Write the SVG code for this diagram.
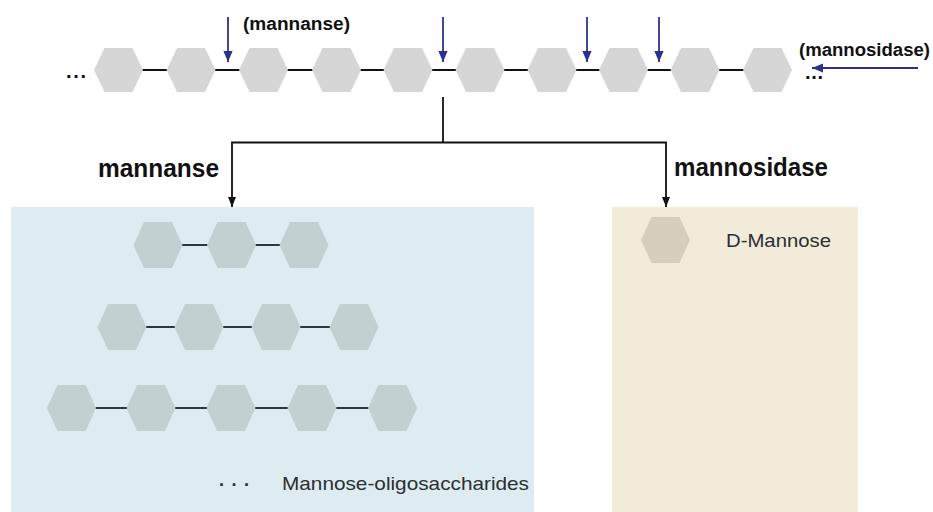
<svg xmlns="http://www.w3.org/2000/svg" xmlns:xlink="http://www.w3.org/1999/xlink" width="933" height="512" viewBox="0 0 933 512">
<style>
.bold{font-family:"Liberation Sans","DejaVu Sans",sans-serif;font-weight:bold;fill:#111}
.reg{font-family:"Liberation Sans","DejaVu Sans",sans-serif;fill:#2a2f33}
.hexTop{fill:#d6d6d6}
.hexBlue{fill:#c3d0d1}
.hexBeige{fill:#d6cfbd}
.chainTop{stroke:#111;stroke-width:2.2;fill:none}
.chain{stroke:#2f3838;stroke-width:1.8;fill:none}
.blue{stroke:#2b318c;stroke-width:1.8;fill:none}
.conn{stroke:#111;stroke-width:1.8;fill:none}
</style>
<defs>
<polygon id="hexA" points="-24.5,0 -14,-22 14,-22 24.5,0 14,22 -14,22"/>
<polygon id="hexB" points="-24.5,0 -14,-23 14,-23 24.5,0 14,23 -14,23"/>
<marker id="arrBlue" viewBox="0 0 10 10" refX="10" refY="5" markerWidth="11" markerHeight="11" markerUnits="userSpaceOnUse" orient="auto"><path d="M0,0.8 L10,5 L0,9.2 Z" fill="#2b318c"/></marker>
<marker id="arrBlack" viewBox="0 0 10 10" refX="10" refY="5" markerWidth="10" markerHeight="10" markerUnits="userSpaceOnUse" orient="auto"><path d="M0,1 L10,5 L0,9 Z" fill="#111"/></marker>
</defs>

<rect x="11" y="207" width="523" height="305" fill="#deebf0"/>
<rect x="612" y="207" width="246" height="305" fill="#f3ebda"/>

<g id="substrate-chain">
<line class="chainTop" x1="118" y1="70" x2="768" y2="70"/>
<use href="#hexA" class="hexTop" x="118.5" y="70"/>
<use href="#hexA" class="hexTop" x="191" y="70"/>
<use href="#hexA" class="hexTop" x="263.5" y="70"/>
<use href="#hexA" class="hexTop" x="336.5" y="70"/>
<use href="#hexA" class="hexTop" x="408" y="70"/>
<use href="#hexA" class="hexTop" x="480" y="70"/>
<use href="#hexA" class="hexTop" x="552" y="70"/>
<use href="#hexA" class="hexTop" x="623.5" y="70"/>
<use href="#hexA" class="hexTop" x="695" y="70"/>
<use href="#hexA" class="hexTop" x="767.5" y="70"/>
<text class="bold" x="66" y="78" font-size="20" textLength="20" lengthAdjust="spacing">...</text>
<text class="bold" x="805" y="79" font-size="20" textLength="18" lengthAdjust="spacing">...</text>
</g>

<g id="cleavage-arrows">
<line class="blue" x1="228" y1="17" x2="228" y2="62" marker-end="url(#arrBlue)"/>
<line class="blue" x1="443" y1="17" x2="443" y2="62" marker-end="url(#arrBlue)"/>
<line class="blue" x1="587" y1="17" x2="587" y2="62" marker-end="url(#arrBlue)"/>
<line class="blue" x1="659" y1="17" x2="659" y2="62" marker-end="url(#arrBlue)"/>
<line class="blue" x1="918" y1="68" x2="812" y2="68" marker-end="url(#arrBlue)"/>
<text class="bold" x="243" y="30" font-size="18" textLength="107" lengthAdjust="spacingAndGlyphs">(mannanse)</text>
<text class="bold" x="799" y="56" font-size="18" textLength="131" lengthAdjust="spacingAndGlyphs">(mannosidase)</text>
</g>

<g id="connectors">
<polyline class="conn" points="443,97 443,142.5"/>
<polyline class="conn" points="443,142.5 232,142.5 232,207" marker-end="url(#arrBlack)"/>
<polyline class="conn" points="443,142.5 666,142.5 666,207" marker-end="url(#arrBlack)"/>
<text class="bold" x="98" y="177" font-size="25" textLength="121" lengthAdjust="spacingAndGlyphs">mannanse</text>
<text class="bold" x="674" y="176" font-size="25" textLength="154" lengthAdjust="spacingAndGlyphs">mannosidase</text>
</g>

<g id="oligo-box">
<line class="chain" x1="158" y1="245" x2="304" y2="245"/>
<use href="#hexB" class="hexBlue" x="158" y="245"/>
<use href="#hexB" class="hexBlue" x="231.5" y="245"/>
<use href="#hexB" class="hexBlue" x="304" y="245"/>
<line class="chain" x1="122" y1="327" x2="354" y2="327"/>
<use href="#hexB" class="hexBlue" x="122" y="327"/>
<use href="#hexB" class="hexBlue" x="199" y="327"/>
<use href="#hexB" class="hexBlue" x="276" y="327"/>
<use href="#hexB" class="hexBlue" x="354" y="327"/>
<line class="chain" x1="71.5" y1="408" x2="392.5" y2="408"/>
<use href="#hexB" class="hexBlue" x="71.5" y="408"/>
<use href="#hexB" class="hexBlue" x="151" y="408"/>
<use href="#hexB" class="hexBlue" x="231" y="408"/>
<use href="#hexB" class="hexBlue" x="312" y="408"/>
<use href="#hexB" class="hexBlue" x="392.5" y="408"/>
<text class="bold" x="219" y="486" font-size="18" textLength="30" lengthAdjust="spacing" style="fill:#2a2f33">...</text>
<text class="reg" x="282" y="490" font-size="19" textLength="247" lengthAdjust="spacingAndGlyphs">Mannose-oligosaccharides</text>
</g>

<g id="mannose-box">
<use href="#hexB" class="hexBeige" x="665.5" y="240"/>
<text class="reg" x="726" y="247" font-size="19" textLength="105" lengthAdjust="spacingAndGlyphs">D-Mannose</text>
</g>
</svg>
